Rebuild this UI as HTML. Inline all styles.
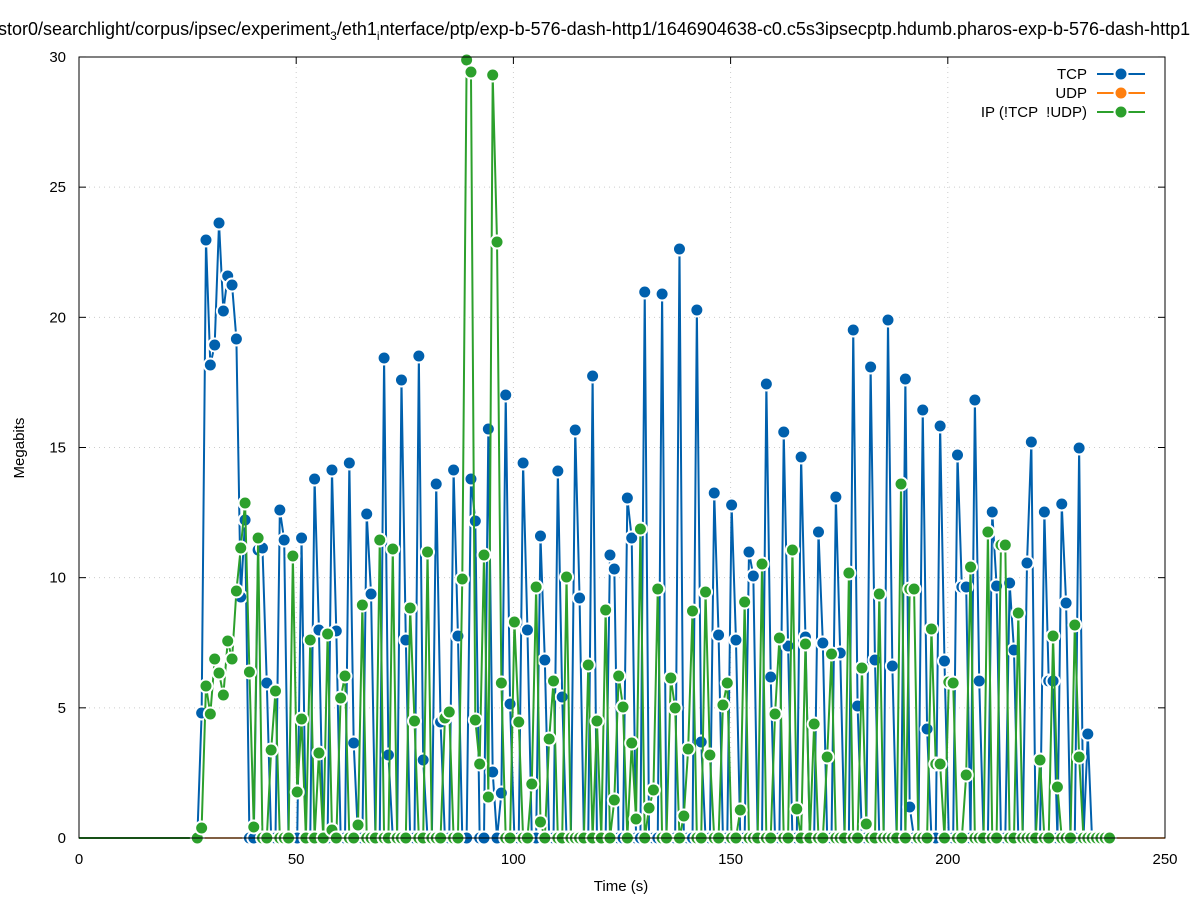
<!DOCTYPE html>
<html><head><meta charset="utf-8"><style>body{margin:0;background:#fff}svg{display:block;font-family:"Liberation Sans","DejaVu Sans",sans-serif}</style></head>
<body>
<svg id="s" width="1197" height="900" viewBox="0 0 1197 900">
<rect width="1197" height="900" fill="#fff"/>
<text x="-2" y="35" font-size="18" fill="#000">stor0/searchlight/corpus/ipsec/experiment<tspan font-size="12" dy="5">3</tspan><tspan dy="-5">/eth1</tspan><tspan font-size="12" dy="5">i</tspan><tspan dy="-5">nterface/ptp/exp-b-576-dash-http1/1646904638-c0.c5s3ipsecptp.hdumb.pharos-exp-b-576-dash-http1</tspan></text>
<g id="grid" stroke="#ccc" stroke-dasharray="1,4" stroke-width="1"></g>
<g id="axes"></g>
<g id="data"></g>
<rect x="79" y="57" width="1086" height="781" fill="none" stroke="#000" stroke-width="1"/>
<g font-size="15" fill="#000">
<text x="1087" y="79" text-anchor="end">TCP</text>
<text x="1087" y="98" text-anchor="end">UDP</text>
<text x="1087" y="117" text-anchor="end" style="white-space:pre">IP (!TCP  !UDP)</text>
<text x="621" y="891" text-anchor="middle">Time (s)</text>
<text transform="translate(24,448) rotate(-90)" text-anchor="middle">Megabits</text>
</g>
</svg>
<script>
const NS="http://www.w3.org/2000/svg";
function el(t,a,p){const e=document.createElementNS(NS,t);for(const k in a)e.setAttribute(k,a[k]);p.appendChild(e);return e;}
const grid=document.getElementById('grid'),axes=document.getElementById('axes'),data=document.getElementById('data');
for(let i=0;i<=5;i++){const x=79+i*217.2;if(i>0&&i<5)el('line',{x1:x,y1:57,x2:x,y2:838},grid);
el('line',{x1:x,y1:838,x2:x,y2:831,stroke:'#000'},axes);el('line',{x1:x,y1:57,x2:x,y2:64,stroke:'#000'},axes);
const t=el('text',{x:x,y:864,'text-anchor':'middle','font-size':15},axes);t.textContent=i*50;}
for(let i=0;i<=6;i++){const y=838-i*130.17;if(i>0&&i<6)el('line',{x1:79,y1:y,x2:1165,y2:y},grid);
el('line',{x1:79,y1:y,x2:86,y2:y,stroke:'#000'},axes);el('line',{x1:1165,y1:y,x2:1158,y2:y,stroke:'#000'},axes);
const t=el('text',{x:66,y:y+5,'text-anchor':'end','font-size':15},axes);t.textContent=i*5;}
const tcp=[[201,713],[206,240],[210,365],[215,345],[219,223],[223,311],[228,276],[232,285],[236,339],[241,597],[245,520],[258,550],[262,548],[267,683],[280,510],[284,540],[301,538],[315,479],[319,630],[332,470],[337,631],[349,463],[354,743],[366,514],[371,594],[384,358],[389,755],[401,380],[406,640],[419,356],[424,760],[437,484],[441,722],[454,470],[459,636],[471,479],[475,521],[488,429],[493,772],[502,793],[506,395],[510,704],[523,463],[528,630],[541,536],[545,660],[558,471],[563,697],[576,430],[580,598],[593,376],[611,555],[615,569],[628,498],[632,538],[645,292],[663,294],[680,249],[698,310],[702,742],[715,493],[719,635],[732,505],[737,640],[750,552],[754,576],[767,384],[772,677],[785,432],[789,646],[802,457],[807,637],[819,532],[824,643],[837,497],[842,653],[855,330],[859,706],[872,367],[877,660],[890,320],[894,666],[907,379],[911,807],[925,410],[929,729],[942,426],[946,661],[959,455],[964,587],[977,400],[981,681],[994,512],[998,586],[1011,583],[1016,650],[1029,563],[1033,442],[1046,512],[1051,681],[1064,504],[1068,603],[1081,448],[1086,734]];
const ip=[[201,828],[206,686],[210,714],[215,659],[219,673],[223,695],[228,641],[232,659],[236,591],[241,548],[245,503],[250,672],[254,827],[258,538],[271,750],[276,691],[293,556],[297,792],[302,719],[310,640],[319,753],[328,634],[332,830],[341,698],[345,676],[358,825],[363,605],[380,540],[393,549],[410,608],[415,721],[428,552],[445,718],[449,712],[462,579],[467,60],[471,72],[475,720],[480,764],[484,555],[488,797],[493,75],[497,242],[502,683],[515,622],[519,722],[532,784],[536,587],[541,822],[549,739],[554,681],[567,577],[589,665],[597,721],[606,610],[615,800],[619,676],[624,707],[632,743],[637,819],[641,529],[650,808],[654,790],[658,589],[671,678],[676,708],[684,816],[689,749],[693,611],[706,592],[711,755],[724,705],[728,683],[742,810],[746,602],[763,564],[776,714],[781,638],[794,550],[798,809],[807,644],[815,724],[829,757],[833,654],[850,573],[864,668],[868,824],[881,594],[899,484],[912,589],[933,629],[938,764],[951,682],[955,683],[968,775],[972,567],[986,532],[1003,545],[1020,613],[1038,564],[1042,760],[1055,636],[1059,787],[1073,625],[1077,757]];
function series(pts,x0,x1){const out=[];for(let x=x0;x<=x1+0.1;x+=4.344){let best=null,bd=2.3;for(const p of pts){const d=Math.abs(p[0]-x);if(d<bd){bd=d;best=p;}}out.push(best?[x,best[1]]:[x,838]);}return out;}
function draw(pts,color,x0,x1,extra){const s=series(pts,x0,x1);if(extra)s.push(extra);
el('polyline',{points:'79,838 '+s.map(p=>p.join(',')).join(' '),fill:'none',stroke:color,'stroke-width':2},data);
for(const p of s)el('circle',{cx:p[0],cy:p[1],r:6.5,fill:color,stroke:'#fff','stroke-width':2},data);}
el('line',{x1:79,y1:838,x2:1165,y2:838,stroke:'#ff7f0e','stroke-width':1.5},data);
draw(tcp,'#0060ad',197.3,1088,[1092,838]);
draw(ip,'#2ca02c',197.3,1113);
[['#0060ad',74],['#ff7f0e',93],['#2ca02c',112]].forEach(([c,y])=>{el('line',{x1:1097,y1:y,x2:1145,y2:y,stroke:c,'stroke-width':2},data);el('circle',{cx:1121,cy:y,r:6.5,fill:c,stroke:'#fff','stroke-width':2},data);});
</script>
</body></html>
